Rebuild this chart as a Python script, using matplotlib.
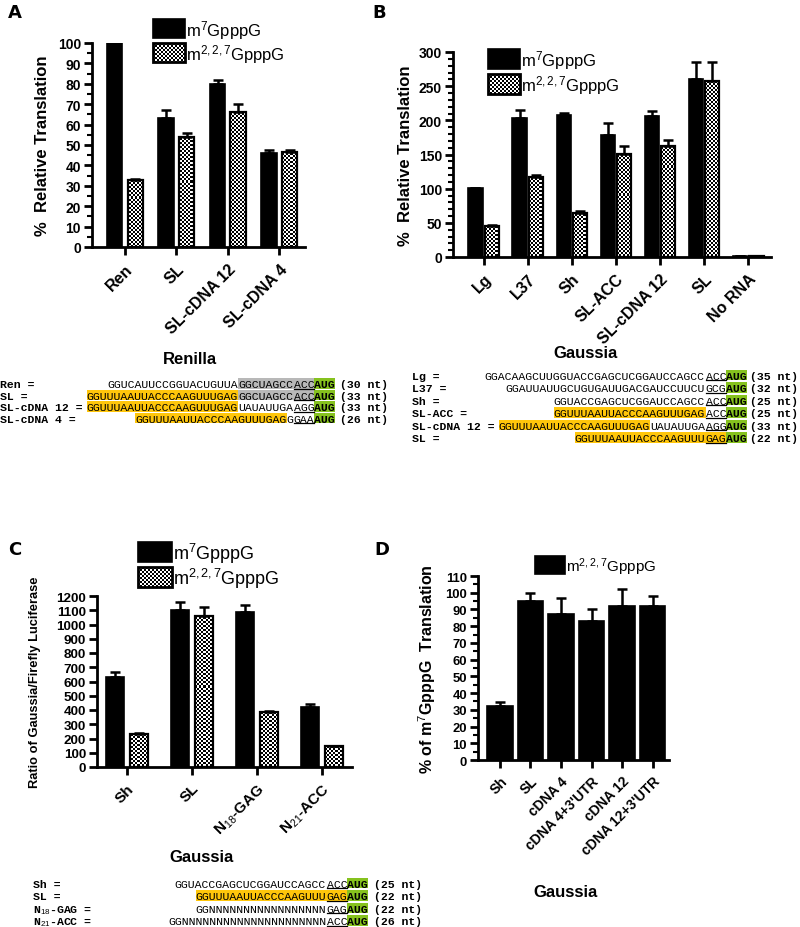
import numpy as np
import matplotlib
matplotlib.use('Agg')
import matplotlib.pyplot as plt
from matplotlib.patches import Rectangle
from matplotlib.lines import Line2D

plt.rcParams['font.family'] = ['Liberation Sans', 'DejaVu Sans']
plt.rcParams['mathtext.fontset'] = 'custom'
plt.rcParams['mathtext.rm'] = 'Liberation Sans'
plt.rcParams['mathtext.it'] = 'Liberation Sans:italic'
plt.rcParams['mathtext.bf'] = 'Liberation Sans:bold'

# ---------------- data ----------------
legend_m7 = 'm$^{7}$GpppG'
legend_m227 = 'm$^{2,2,7}$GpppG'

a_cats = ['Ren', 'SL', 'SL-cDNA 12', 'SL-cDNA 4']
a_m7 = [100, 63, 80, 46]
a_m7_err = [0, 4, 2, 1.5]
a_m227 = [33, 54, 66, 46.5]
a_m227_err = [0.5, 2, 4, 1]

b_cats = ['Lg', 'L37', 'Sh', 'SL-ACC', 'SL-cDNA 12', 'SL', 'No RNA']
b_m7 = [101, 203, 208, 179, 207, 260, 1.5]
b_m7_err = [0, 12, 3, 17, 7, 26, 0]
b_m227 = [45, 117, 64, 151, 163, 258, 1.5]
b_m227_err = [2, 3, 4, 11, 8, 27, 0]

c_cats = ['Sh', 'SL', 'N$_{18}$-GAG', 'N$_{21}$-ACC']
c_m7 = [630, 1105, 1085, 420]
c_m7_err = [35, 55, 50, 25]
c_m227 = [235, 1060, 385, 145]
c_m227_err = [5, 60, 10, 5]

d_cats = ['Sh', 'SL', 'cDNA 4', "cDNA 4+3'UTR", 'cDNA 12', "cDNA 12+3'UTR"]
d_vals = [32, 95, 87, 83, 92, 92]
d_err = [2.5, 5, 10, 7, 10, 6]

YEL = '#FFC60B'
GRY = '#B8B8B8'
SL_YEL = 'GGUUUAAUUACCCAAGUUUGAG'

# sequences: (label, [(text, highlight, underline)], nt label)
a_seqs = [
    ('Ren =', [('GGUCAUUCCGGUACUGUUA', None, False), ('GGCUAGCC', GRY, False), ('ACC', GRY, True)], '(30 nt)'),
    ('SL =', [(SL_YEL, YEL, False), ('GGCUAGCC', GRY, False), ('ACC', GRY, True)], '(33 nt)'),
    ('SL-cDNA 12 =', [(SL_YEL, YEL, False), ('UAUAUUGA', None, False), ('AGG', None, True)], '(33 nt)'),
    ('SL-cDNA 4 =', [(SL_YEL, YEL, False), ('G', None, False), ('GAA', None, True)], '(26 nt)'),
]
b_seqs = [
    ('Lg =', [('GGACAAGCUUGGUACCGAGCUCGGAUCCAGCC', None, False), ('ACC', None, True)], '(35 nt)'),
    ('L37 =', [('GGAUUAUUGCUGUGAUUGACGAUCCUUCU', None, False), ('GCG', None, True)], '(32 nt)'),
    ('Sh =', [('GGUACCGAGCUCGGAUCCAGCC', None, False), ('ACC', None, True)], '(25 nt)'),
    ('SL-ACC =', [(SL_YEL, YEL, False), ('ACC', None, True)], '(25 nt)'),
    ('SL-cDNA 12 =', [(SL_YEL, YEL, False), ('UAUAUUGA', None, False), ('AGG', None, True)], '(33 nt)'),
    ('SL =', [('GGUUUAAUUACCCAAGUUU', YEL, False), ('GAG', YEL, True)], '(22 nt)'),
]
c_seqs = [
    ('Sh =', [('GGUACCGAGCUCGGAUCCAGCC', None, False), ('ACC', None, True)], '(25 nt)'),
    ('SL =', [('GGUUUAAUUACCCAAGUUU', YEL, False), ('GAG', YEL, True)], '(22 nt)'),
    ('N$_{18}$-GAG =', [('GG' + 'N' * 17, None, False), ('GAG', None, True)], '(22 nt)'),
    ('N$_{21}$-ACC =', [('GG' + 'N' * 21, None, False), ('ACC', None, True)], '(26 nt)'),
]

# ---------------- figure ----------------
W, H = 800, 928
fig = plt.figure(figsize=(W / 100, H / 100), dpi=100)


def fx(x):
    return x / W


def fy(y):
    return 1 - y / H


def make_axes(x0, y0, x1, y1):
    return fig.add_axes([fx(x0), fy(y1), (x1 - x0) / W, (y1 - y0) / H])


def checker(h, w, s=2):
    i, j = np.indices((int(h), int(w)))
    return ((i // s + j // s) % 2).astype(float)


def style_axes(ax, ymax, major, minor, tick_fs):
    for s in ['top', 'right']:
        ax.spines[s].set_visible(False)
    for s in ['left', 'bottom']:
        ax.spines[s].set_linewidth(2)
    ax.patch.set_visible(False)
    ticks = np.arange(0, ymax + 0.001, major)
    ax.set_yticks(ticks)
    ax.set_yticklabels([f'{int(t)}' for t in ticks], fontweight='bold', fontsize=tick_fs)
    if minor:
        ax.set_yticks(np.arange(0, ymax + 0.001, minor), minor=True)
    ax.tick_params(axis='both', which='major', length=6, width=2, direction='out', pad=2)
    ax.tick_params(axis='y', which='minor', length=3.5, width=1.5)


def set_xcats(ax, cats, fs=11.5):
    ax.set_xticks(np.arange(len(cats)))
    ax.set_xticklabels(cats, rotation=45, ha='right', va='top', rotation_mode='anchor',
                       fontweight='bold', fontsize=fs)
    ax.tick_params(axis='x', pad=4)


def checked_bars(ax, x, vals, width):
    bars = ax.bar(x, vals, width, color='white', edgecolor='none', zorder=1)
    bb = ax.get_window_extent()
    tex = checker(round(bb.height), round(bb.width))
    for p in bars.patches:
        im = ax.imshow(tex, cmap='gray', vmin=0, vmax=1, extent=(0, 1, 0, 1),
                       transform=ax.transAxes, aspect='auto', interpolation='nearest',
                       zorder=2)
        im.set_clip_path(p)
    ax.bar(x, vals, width, facecolor='none', edgecolor='black', linewidth=1.6, zorder=3)


def errs(ax, x, vals, err, cap=3.5):
    ax.errorbar(x, vals, yerr=[np.zeros(len(err)), err], fmt='none', ecolor='black',
                elinewidth=1.8, capsize=cap, capthick=1.8, zorder=4)


def grouped(ax, v1, e1, v2, e2, width, off):
    n = len(v1)
    x = np.arange(n)
    ax.bar(x - off, v1, width, color='black', edgecolor='black', linewidth=1.2, zorder=3)
    checked_bars(ax, x + off, v2, width)
    errs(ax, x - off, v1, e1)
    errs(ax, x + off, v2, e2)


def legend(x, y, w, h, gap, entries, fs):
    for i, (lab, st) in enumerate(entries):
        yy = y + i * (h + gap)
        if st == 'black':
            fig.add_artist(Rectangle((fx(x), fy(yy + h)), w / W, h / H, transform=fig.transFigure,
                                     facecolor='black', edgecolor='black', lw=1.2))
        else:
            fig.figimage(checker(h, w), xo=x, yo=H - yy - h, cmap='gray', vmin=0, vmax=1, zorder=5)
            fig.add_artist(Rectangle((fx(x), fy(yy + h)), w / W, h / H, transform=fig.transFigure,
                                     facecolor='none', edgecolor='black', lw=2.0, zorder=6))
        fig.text(fx(x + w + 1), fy(yy + h / 2 + 1), lab, fontsize=fs, va='center', ha='left')


CW = 6.9
MONO_FS = CW / 0.6 * 72 / 100
MONO = 'Liberation Mono'


def seq_block(x_label, x_end, ys, seqs, hh=10.5, nt_gap=4):
    for y, (lab, segs, nt) in zip(ys, seqs):
        base = y + 3.8
        fig.text(fx(x_label), fy(base), lab, family=[MONO, 'DejaVu Sans'], fontweight='bold',
                 fontsize=MONO_FS, va='baseline', ha='left')
        total = sum(len(t) for t, _, _ in segs)
        x = x_end - (total + 3) * CW
        for text, hl, ul in segs:
            w = len(text) * CW
            if hl:
                fig.add_artist(Rectangle((fx(x), fy(y + hh / 2)), w / W, hh / H,
                                         transform=fig.transFigure, facecolor=hl, edgecolor='none', zorder=1))
            fig.text(fx(x), fy(base), text, family=MONO, fontsize=MONO_FS, va='baseline', ha='left', zorder=3)
            if ul:
                fig.add_artist(Line2D([fx(x), fx(x + w)], [fy(base + 1.6)] * 2, transform=fig.transFigure,
                                      color='black', lw=0.9, zorder=3))
            x += w
        fig.add_artist(Rectangle((fx(x), fy(y + hh / 2)), 3 * CW / W, hh / H,
                                 transform=fig.transFigure, facecolor='#86C21E', edgecolor='none', zorder=1))
        fig.text(fx(x), fy(base), 'AUG', family=MONO, fontweight='bold', fontsize=MONO_FS,
                 va='baseline', ha='left', zorder=3)
        fig.text(fx(x + 3 * CW + nt_gap), fy(base), nt, family=MONO, fontweight='bold', fontsize=MONO_FS,
                 va='baseline', ha='left')


# ---------------- Panel A ----------------
axA = make_axes(92, 44, 305, 248)
grouped(axA, a_m7, a_m7_err, a_m227, a_m227_err, 0.3, 0.2)
style_axes(axA, 100, 10, 5, 10)
set_xcats(axA, a_cats)
axA.set_xlim(-0.64, 3.5)
axA.set_ylim(0, 100)
axA.set_ylabel('%  Relative Translation', fontsize=12, fontweight='bold')
axA.yaxis.set_label_coords((50 - 92) / 213, 0.5)
legend(153, 20, 32, 19, 5, [(legend_m7, 'black'), (legend_m227, 'check')], 12)
fig.text(fx(190), fy(360), 'Renilla', ha='center', va='center', fontsize=12, fontweight='bold')
seq_block(0, 335, [384.5, 396, 407.5, 419], a_seqs, nt_gap=5)

# ---------------- Panel B ----------------
axB = make_axes(453, 53, 771, 258)
grouped(axB, b_m7, b_m7_err, b_m227, b_m227_err, 0.32, 0.19)
style_axes(axB, 300, 50, 10, 10)
set_xcats(axB, b_cats)
axB.set_xlim(-0.70, 6.52)
axB.set_ylim(0, 300)
axB.set_ylabel('%  Relative Translation', fontsize=12, fontweight='bold')
axB.yaxis.set_label_coords((413 - 453) / 318, 0.5)
legend(488, 50, 32, 20, 5, [(legend_m7, 'black'), (legend_m227, 'check')], 12)
fig.text(fx(586), fy(353), 'Gaussia', ha='center', va='center', fontsize=12, fontweight='bold')
seq_block(412, 747, [376, 388.5, 401, 413.5, 426, 438.5], b_seqs, nt_gap=3)

# ---------------- Panel C ----------------
axC = make_axes(97, 597, 352, 768)
grouped(axC, c_m7, c_m7_err, c_m227, c_m227_err, 0.28, 0.185)
style_axes(axC, 1200, 100, None, 9.7)
set_xcats(axC, c_cats, 11)
axC.set_xlim(-0.46, 3.46)
axC.set_ylim(0, 1200)
axC.set_ylabel('Ratio of Gaussia/Firefly Luciferase', fontsize=9.3, fontweight='bold')
axC.yaxis.set_label_coords((41 - 97) / 255, 0.5)
legend(138, 543, 34, 20, 5, [(legend_m7, 'black'), (legend_m227, 'check')], 13)
fig.text(fx(202), fy(858), 'Gaussia', ha='center', va='center', fontsize=12, fontweight='bold')
seq_block(33, 368, [884, 896.5, 909, 921.5], c_seqs, nt_gap=6)

# ---------------- Panel D ----------------
axD = make_axes(478, 577, 669, 761)
xd = np.arange(len(d_vals))
axD.bar(xd, d_vals, 0.85, color='black', edgecolor='black', linewidth=1.2, zorder=3)
errs(axD, xd, d_vals, d_err)
style_axes(axD, 110, 10, 5, 9.4)
set_xcats(axD, d_cats, 10)
axD.set_xlim(-0.72, 5.54)
axD.set_ylim(0, 110)
axD.set_ylabel('% of m$^{7}$GpppG  Translation', fontsize=11.5, fontweight='bold')
axD.yaxis.set_label_coords((438 - 478) / 191, 0.5)
legend(535, 557, 30, 18, 5, [(legend_m227, 'black')], 11)
fig.text(fx(566), fy(893), 'Gaussia', ha='center', va='center', fontsize=12, fontweight='bold')

# panel letters
for lab, (x, y) in zip('ABCD', [(8, 4), (372, 4), (8, 541), (374, 541)]):
    fig.text(fx(x), fy(y), lab, fontsize=13, fontweight='bold', family='DejaVu Sans', ha='left', va='top')

fig.savefig('out.png', dpi=100)
